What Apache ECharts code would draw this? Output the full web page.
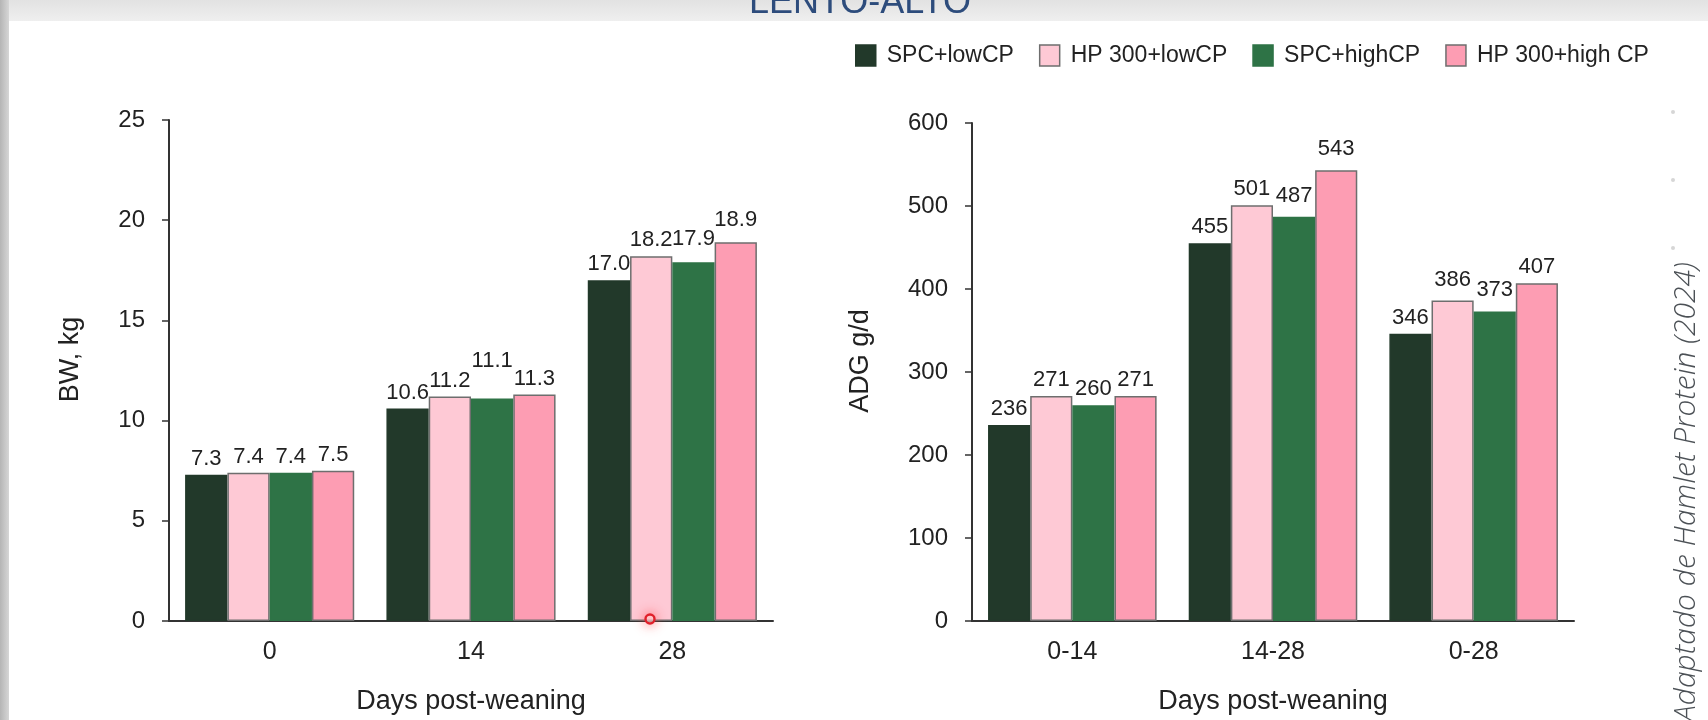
<!DOCTYPE html>
<html>
<head>
<meta charset="utf-8">
<script src="https://cdn.jsdelivr.net/npm/echarts@6.0.0/dist/echarts.min.js"></script>
<style>
  html, body { margin: 0; padding: 0; background: #ffffff; }
  #chart { width: 1708px; height: 720px; }
</style>
</head>
<body>
<div id="chart"></div>
<script>
// ---- data ----
const bwCategories = ['0', '14', '28'];
const adgCategories = ['0-14', '14-28', '0-28'];
const seriesNames = ['SPC+lowCP', 'HP 300+lowCP', 'SPC+highCP', 'HP 300+high CP'];

const bwSpcLow = [7.3, 10.6, 17.0];
const bwHpLow = [7.4, 11.2, 18.2];
const bwSpcHigh = [7.4, 11.1, 17.9];
const bwHpHigh = [7.5, 11.3, 18.9];

const adgSpcLow = [236, 455, 346];
const adgHpLow = [271, 501, 386];
const adgSpcHigh = [260, 487, 373];
const adgHpHigh = [271, 543, 407];

const bwTicks = { min: 0, max: 25, interval: 5 };
const adgTicks = { min: 0, max: 600, interval: 100 };

// ---- styles ----
const FONT = "'Liberation Sans', Arial, sans-serif";
const colors = ['#22392a', '#fec9d5', '#2e7346', '#fd9db3'];
const borders = ['#22392a', '#6e6e6e', '#2e7346', '#6e6e6e'];
const AXIS_COLOR = '#333333';
const TEXT_COLOR = '#222222';
// label offsets for the few labels that sit off their default place
const labelShift = { 'bw-2-1': -22, 'bw-2-2': -7, 'bw-3-2': -6, 'adg-2-1': -5, 'adg-3-1': -5, 'adg-1-2': -5, 'adg-2-2': -5 };

const bwSets = [bwSpcLow, bwHpLow, bwSpcHigh, bwHpHigh];
const adgSets = [adgSpcLow, adgHpLow, adgSpcHigh, adgHpHigh];

function makeSeries(sets, axisIdx, key, decimals) {
  return sets.map((vals, si) => ({
    name: seriesNames[si],
    type: 'bar',
    xAxisIndex: axisIdx,
    yAxisIndex: axisIdx,
    barGap: '0%',
    barCategoryGap: '16%',
    itemStyle: { color: colors[si], borderColor: borders[si], borderWidth: 1.5 },
    label: {
      show: true,
      position: 'top',
      distance: 5,
      fontFamily: FONT,
      fontSize: 22,
      color: TEXT_COLOR,
      formatter: p => p.value.toFixed(decimals)
    },
    data: vals.map((v, di) => {
      const sh = labelShift[key + '-' + si + '-' + di];
      return sh ? { value: v, label: { offset: [0, sh] } } : v;
    })
  }));
}

const xAxisBase = (gridIndex, data) => ({
  gridIndex,
  type: 'category',
  data,
  axisLine: { show: true, lineStyle: { color: AXIS_COLOR, width: 2 } },
  axisTick: { show: false },
  axisLabel: { fontFamily: FONT, fontSize: 25, color: TEXT_COLOR, margin: 19 },
  splitLine: { show: false },
  name: 'Days post-weaning',
  nameLocation: 'middle',
  nameGap: 67,
  nameTextStyle: { fontFamily: FONT, fontSize: 27, color: TEXT_COLOR, lineHeight: 27 }
});

const yAxisBase = (gridIndex, ticks, name, nameGap) => ({
  gridIndex,
  type: 'value',
  min: ticks.min,
  max: ticks.max,
  interval: ticks.interval,
  axisLine: { show: true, lineStyle: { color: AXIS_COLOR, width: 2 } },
  axisTick: { show: true, length: 7, lineStyle: { color: AXIS_COLOR, width: 1.5 } },
  axisLabel: { fontFamily: FONT, fontSize: 24, color: TEXT_COLOR, margin: 24 },
  splitLine: { show: false },
  name,
  nameLocation: 'middle',
  nameGap,
  nameTextStyle: { fontFamily: FONT, fontSize: 27, color: TEXT_COLOR, lineHeight: 27, padding: [0, 0, 0, 22] }
});

const chart = echarts.init(document.getElementById('chart'), null, { renderer: 'canvas' });

const option = {
  animation: false,
  backgroundColor: '#ffffff',
  legend: {
    data: seriesNames,
    left: 850,
    top: 39,
    itemWidth: 20,
    itemHeight: 21,
    itemGap: 25,
    icon: 'rect',
    textStyle: { fontFamily: FONT, fontSize: 23, color: TEXT_COLOR, padding: [0, 0, 0, 6] },
    itemStyle: { borderWidth: 1.5 }
  },
  grid: [
    { left: 169, top: 120, width: 604, height: 504 },
    { left: 972, top: 123, width: 602, height: 503 }
  ],
  xAxis: [xAxisBase(0, bwCategories), xAxisBase(1, adgCategories)],
  yAxis: [yAxisBase(0, bwTicks, 'BW, kg', 85), yAxisBase(1, adgTicks, 'ADG g/d', 98)],
  series: [...makeSeries(bwSets, 0, 'bw', 1), ...makeSeries(adgSets, 1, 'adg', 0)],
  graphic: [
    // page frame: left and top grey bands
    { type: 'rect', left: 0, top: 0, z: -10, shape: { width: 1708, height: 21 },
      style: { fill: new echarts.graphic.LinearGradient(0, 0, 0, 1, [
        { offset: 0, color: '#e2e2e2' }, { offset: 1, color: '#efefef' }]) } },
    { type: 'rect', left: 0, top: 0, z: -9, shape: { width: 9, height: 720 },
      style: { fill: new echarts.graphic.LinearGradient(0, 0, 1, 0, [
        { offset: 0, color: '#b5b5b5' }, { offset: 1, color: '#d6d6d6' }]) } },
    // cropped title
    { type: 'text', x: 860, y: 21, z: 10,
      style: { text: 'LENTO-ALTO', fill: '#2d4c7c', font: "36px 'Liberation Sans', sans-serif",
        textAlign: 'center', textVerticalAlign: 'bottom' } },
    // side credit
    { type: 'text', x: 1686, y: 492, rotation: Math.PI / 2, z: 10,
      style: { text: 'Adaptado de Hamlet Protein (2024)', fill: '#4c5156',
        font: "italic 300 30px 'Open Sans', Lato, sans-serif", textAlign: 'center', textVerticalAlign: 'middle' } },
    // faint specks on the right
    { type: 'circle', shape: { cx: 1673, cy: 112, r: 2 }, style: { fill: '#d6d6d6' } },
    { type: 'circle', shape: { cx: 1673, cy: 180, r: 2 }, style: { fill: '#d6d6d6' } },
    { type: 'circle', shape: { cx: 1673, cy: 248, r: 2 }, style: { fill: '#d6d6d6' } },
    // red cursor marker
    { type: 'circle', z: 20, shape: { cx: 650, cy: 619, r: 4.5 },
      style: { fill: 'rgba(255,255,255,0.6)', stroke: '#e0202a', lineWidth: 2.4,
        shadowBlur: 12, shadowColor: 'rgba(255,60,60,0.8)' } }
  ]
};

chart.setOption(option);
</script>
</body>
</html>
